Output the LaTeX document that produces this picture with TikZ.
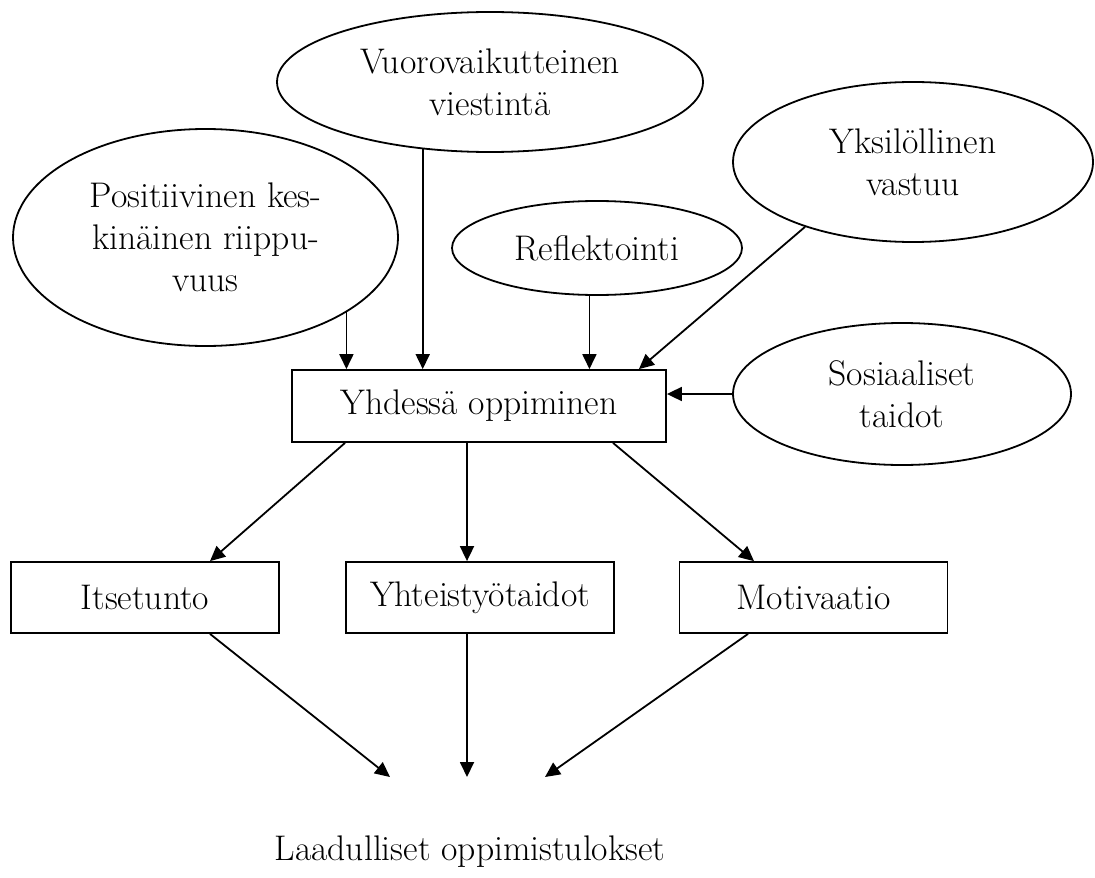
\documentclass[tikz,border=0pt]{standalone}
\usetikzlibrary{positioning,calc,arrows.meta,shapes.geometric}
\tikzset{font=\fontsize{17.8}{21}\selectfont}

\begin{document}
\begin{tikzpicture}[x=0.5pt, y=-0.5pt, line width=0.9pt, >={Triangle[length=7.5pt, width=7pt]}]
	\useasboundingbox (0,0) rectangle (1095,877);
	\begin{scope}
		\tikzstyle{every node}=[align=center, inner sep=1pt]
		\tikzstyle{soikio}=[draw, ellipse, inner xsep=-30pt, inner ysep=-6pt]
		\tikzstyle{laatikko}=[draw, rectangle, inner sep=0pt, minimum height=35.5pt]
		\node[soikio, minimum width=192.5pt, minimum height=108.5pt] (pos) at (205.5, 237.5) {Positiivinen kes-\\kinäinen riippu-\\vuus};
		\node[soikio, minimum width=213pt, minimum height=70pt] (vuo) at (490, 82) {Vuorovaikutteinen\\viestintä};
		\node[soikio, minimum width=145pt, minimum height=47pt] (ref) at (597, 248) {Reflektointi};
		\node[soikio, minimum width=180pt, minimum height=80pt] (yks) at (913, 162) {Yksilöllinen\\vastuu};
		\node[soikio, minimum width=169pt, minimum height=71pt] (sos) at (902, 394) {Sosiaaliset\\taidot};
		\node[laatikko, minimum width=187pt, minimum height=36pt] (yhd) at (479, 406) {Yhdessä oppiminen};
		\node[laatikko, minimum width=134pt] (its) at (145, 597.5) {Itsetunto};
		\node[laatikko, minimum width=134pt] (yht) at (480, 597.5) {Yhteistyötaidot};
		\node[laatikko, minimum width=134pt] (mot) at (813.5, 597.5) {Motivaatio};
		\node (laa) at (470, 852) {Laadulliset oppimistulokset};
		\coordinate (k1) at (390, 777);
		\coordinate (k2) at (467, 777);
		\coordinate (k3) at (545, 777);

		\draw[->](pos.-28) -- (pos.-28 |- yhd.north);
		\draw[->](vuo.-135.7) -- (vuo.-135.7 |- yhd.north);
		\draw[->](ref.-99.7) -- (ref.-99.7 |- yhd.north);
		\draw[->](yks.211) -- ([xshift=-14pt]yhd.north east);
		\draw[->](sos.west) -- (sos.west -| yhd.east);
		\draw[->]([xshift=-67pt]yhd.south) -- ([xshift=32.5pt]its.north);
		\draw[->]([xshift=-6pt]yhd.south) -- ([xshift=-6pt]yhd.south |- yht.north);
		\draw[->]([xshift=67pt]yhd.south) -- ([xshift=-29.75pt]mot.north);
		\draw[->]([xshift=32.5pt]its.south) -- (k1);
		\draw[->]([xshift=-6.5pt]yht.south) -- (k2);
		\draw[->]([xshift=-32.75pt]mot.south) -- (k3);
	\end{scope}
\end{tikzpicture}
\end{document}
